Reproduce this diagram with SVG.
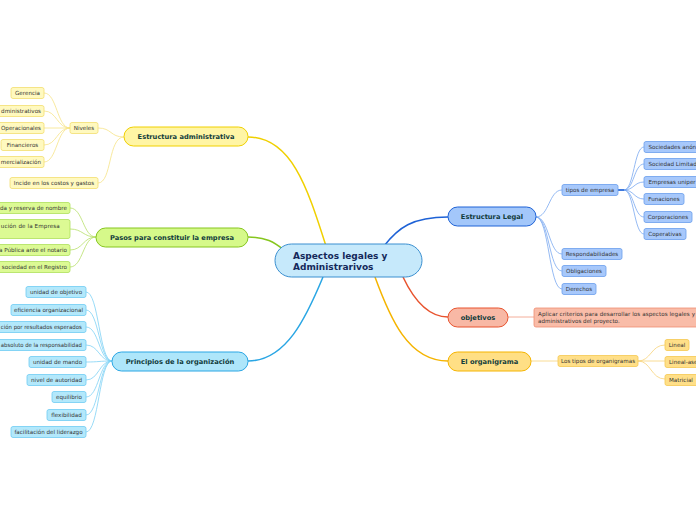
<svg xmlns="http://www.w3.org/2000/svg" width="696" height="520" viewBox="0 0 696 520">
<style>
text{font-family:"DejaVu Sans","Verdana",sans-serif;}
.t{font-size:5.6px;fill:#333;}
.m{font-size:6.7px;font-weight:bold;fill:#123c3c;}
.c{font-size:9px;font-weight:bold;fill:#14285a;}
.mid{text-anchor:middle;}
.end{text-anchor:end;}
.ly{fill:#fff9bf;stroke:#f3dd6e;stroke-width:0.8;}
.lg{fill:#dcfa94;stroke:#ade05a;stroke-width:0.8;}
.lc{fill:#b3e8fb;stroke:#6fcbf2;stroke-width:0.8;}
.lb{fill:#a7c8fb;stroke:#6a9eec;stroke-width:0.8;}
.lr{fill:#f9bca8;stroke:#ef8d72;stroke-width:0.8;}
.lo{fill:#ffdf88;stroke:#f5c850;stroke-width:0.8;}
.cy{fill:none;stroke:#f6e386;stroke-width:0.8;}
.cg{fill:none;stroke:#b8e06a;stroke-width:0.8;}
.cc{fill:none;stroke:#7fd2f5;stroke-width:0.8;}
.cb{fill:none;stroke:#7aa8f0;stroke-width:0.8;}
.cr{fill:none;stroke:#f19a80;stroke-width:0.8;}
.co{fill:none;stroke:#f7d37a;stroke-width:0.8;}
</style>
<rect width="696" height="520" fill="#fff"/>
<g id="connectors">
  <path d="M248,137 C292,137 308,190 326,246" fill="none" stroke="#f0d000" stroke-width="1.5"/>
  <path d="M248,237 C266,237 274,242 284,250" fill="none" stroke="#86c61e" stroke-width="1.5"/>
  <path d="M248,361 C286,361 306,318 323,277" fill="none" stroke="#2aa6e4" stroke-width="1.5"/>
  <path d="M448,217 C412,217 398,228 384,246" fill="none" stroke="#1e62d6" stroke-width="1.5"/>
  <path d="M448,317 C426,317 412,296 403,277" fill="none" stroke="#e8532e" stroke-width="1.5"/>
  <path d="M448,361 C408,361 390,318 375,277" fill="none" stroke="#f5b400" stroke-width="1.5"/>
  <path class="cy" d="M124,137 C110,137 112,128 98,128"/>
  <path class="cy" d="M124,137 C108,137 112,183 98,183"/>
  <path class="cy" d="M70,128 C57,128 57,93 44,93"/>
  <path class="cy" d="M70,128 C57,128 57,111 44,111"/>
  <path class="cy" d="M70,128 L44,128"/>
  <path class="cy" d="M70,128 C57,128 57,145 44,145"/>
  <path class="cy" d="M70,128 C57,128 57,162 44,162"/>
  <path class="cg" d="M96,237 C83,237 83,208 70,208"/>
  <path class="cg" d="M96,237 C83,237 83,229 70,229"/>
  <path class="cg" d="M96,237 C83,237 83,250 70,250"/>
  <path class="cg" d="M96,237 C83,237 83,267 70,267"/>
  <path class="cc" d="M112,361 C99,361 99,292 86,292"/>
  <path class="cc" d="M112,361 C99,361 99,310 86,310"/>
  <path class="cc" d="M112,361 C99,361 99,327 86,327"/>
  <path class="cc" d="M112,361 C99,361 99,345 86,345"/>
  <path class="cc" d="M112,361 C99,361 99,362 86,362"/>
  <path class="cc" d="M112,361 C99,361 99,380 86,380"/>
  <path class="cc" d="M112,361 C99,361 99,397 86,397"/>
  <path class="cc" d="M112,361 C99,361 99,415 86,415"/>
  <path class="cc" d="M112,361 C99,361 99,432 86,432"/>
  <path class="cb" d="M536,217 C549,217 549,190 562,190"/>
  <path class="cb" d="M536,217 C549,217 549,254 562,254"/>
  <path class="cb" d="M536,217 C549,217 549,271 562,271"/>
  <path class="cb" d="M536,217 C549,217 549,289 562,289"/>
  <path d="M618,190 L626,190" stroke="#2a6ad8" stroke-width="1.8"/>
  <path class="cb" d="M624,190 C634,190 634,147 644,147"/>
  <path class="cb" d="M624,190 C634,190 634,164 644,164"/>
  <path class="cb" d="M624,190 C634,190 634,182 644,182"/>
  <path class="cb" d="M624,190 C634,190 634,199 644,199"/>
  <path class="cb" d="M624,190 C634,190 634,217 644,217"/>
  <path class="cb" d="M624,190 C634,190 634,234 644,234"/>
  <path class="cr" d="M508,317 L534,317"/>
  <path class="co" d="M531,361 L558,361"/>
  <path class="co" d="M638,361 C651,361 651,345 665,345"/>
  <path class="co" d="M638,361 L665,361"/>
  <path class="co" d="M638,361 C651,361 651,379 665,379"/>
</g>
<g id="central">
  <rect x="275" y="244" width="147" height="33" rx="16.5" fill="#c6e9fb" stroke="#3a8fd0" stroke-width="1"/>
  <text class="c" x="293" y="258.5">Aspectos legales y</text>
  <text class="c" x="293" y="270">Administrarivos</text>
</g>
<g id="estructura-administrativa">
  <rect x="124" y="127" width="124" height="19" rx="9.5" fill="#fff5a5" stroke="#f0d000" stroke-width="1"/>
  <text class="m mid" x="186" y="139.3">Estructura administrativa</text>
</g>
<g id="niveles"><rect class="ly" x="70" y="122.5" width="28" height="11" rx="2"/><text class="t mid" x="84" y="130">Niveles</text></g>
<g id="gerencia"><rect class="ly" x="11" y="87.5" width="33" height="11" rx="2"/><text class="t mid" x="27.5" y="95">Gerencia</text></g>
<g id="administrativos"><rect class="ly" x="-20" y="105.5" width="64" height="11" rx="2"/><text class="t end" x="41" y="113">dministrativos</text></g>
<g id="operacionales"><rect class="ly" x="-3" y="122.5" width="47" height="11" rx="2"/><text class="t end" x="41" y="130">Operacionales</text></g>
<g id="financieros"><rect class="ly" x="1" y="139.5" width="43" height="11" rx="2"/><text class="t mid" x="22.5" y="147">Financieros</text></g>
<g id="comercializacion"><rect class="ly" x="-20" y="156.5" width="64" height="11" rx="2"/><text class="t end" x="41" y="164">mercialización</text></g>
<g id="incide"><rect class="ly" x="10" y="177.5" width="88" height="11" rx="2"/><text class="t mid" x="54" y="185">Incide en los costos y gastos</text></g>
<g id="pasos">
  <rect x="96" y="228" width="152" height="19" rx="9.5" fill="#d6f98a" stroke="#86c61e" stroke-width="1"/>
  <text class="m mid" x="172" y="240.3">Pasos para constituir la empresa</text>
</g>
<g id="busqueda"><rect class="lg" x="-20" y="202.5" width="90" height="11" rx="2"/><text class="t end" x="67" y="210">da y reserva de nombre</text></g>
<g id="minuta"><rect class="lg" x="-20" y="219.5" width="90" height="19" rx="2"/><text class="t" x="0.8" y="227.5" textLength="59" lengthAdjust="spacing">ución de la Empresa</text></g>
<g id="escritura"><rect class="lg" x="-20" y="244.5" width="90" height="11" rx="2"/><text class="t end" x="67" y="252">a Pública ante el notario</text></g>
<g id="inscripcion"><rect class="lg" x="-20" y="261.5" width="90" height="11" rx="2"/><text class="t end" x="67" y="269">sociedad en el Registro</text></g>
<g id="principios">
  <rect x="112" y="352" width="136" height="19" rx="9.5" fill="#aee6fa" stroke="#2aa6e4" stroke-width="1"/>
  <text class="m mid" x="180" y="364.3">Principios de la organización</text>
</g>
<g id="p1"><rect class="lc" x="26" y="286.5" width="60" height="11" rx="2"/><text class="t mid" x="56" y="294">unidad de objetivo</text></g>
<g id="p2"><rect class="lc" x="11" y="304.5" width="75" height="11" rx="2"/><text class="t mid" x="48.5" y="312">eficiencia organizacional</text></g>
<g id="p3"><rect class="lc" x="-20" y="321.5" width="106" height="11" rx="2"/><text class="t" x="0.8" y="329" textLength="81" lengthAdjust="spacingAndGlyphs">ción por resultados esperados</text></g>
<g id="p4"><rect class="lc" x="-20" y="339.5" width="106" height="11" rx="2"/><text class="t" x="0.8" y="347" textLength="81" lengthAdjust="spacingAndGlyphs">absoluto de la responsabilidad</text></g>
<g id="p5"><rect class="lc" x="29" y="356.5" width="57" height="11" rx="2"/><text class="t mid" x="57.5" y="364">unidad de mando</text></g>
<g id="p6"><rect class="lc" x="27" y="374.5" width="59" height="11" rx="2"/><text class="t mid" x="56.5" y="382">nivel de autoridad</text></g>
<g id="p7"><rect class="lc" x="52" y="391.5" width="34" height="11" rx="2"/><text class="t mid" x="69" y="399">equilibrio</text></g>
<g id="p8"><rect class="lc" x="47" y="409.5" width="39" height="11" rx="2"/><text class="t mid" x="66.5" y="417">flexibilidad</text></g>
<g id="p9"><rect class="lc" x="11" y="426.5" width="75" height="11" rx="2"/><text class="t mid" x="48.5" y="434">facilitación del liderazgo</text></g>
<g id="estructura-legal">
  <rect x="448" y="207" width="88" height="19" rx="9.5" fill="#a3c7fa" stroke="#1e62d6" stroke-width="1"/>
  <text class="m mid" x="492" y="219.3">Estructura Legal</text>
</g>
<g id="tipos-empresa"><rect class="lb" x="562" y="184.5" width="56" height="11" rx="2"/><text class="t mid" x="590" y="192">tipos de empresa</text></g>
<g id="respon"><rect class="lb" x="562" y="248.5" width="60" height="11" rx="2"/><text class="t mid" x="592" y="256">Respondabilidades</text></g>
<g id="oblig"><rect class="lb" x="562" y="265.5" width="44" height="11" rx="2"/><text class="t mid" x="584" y="273">Obligaciones</text></g>
<g id="derechos"><rect class="lb" x="562" y="283.5" width="34" height="11" rx="2"/><text class="t mid" x="579" y="291">Derechos</text></g>
<g id="t1"><rect class="lb" x="644" y="141.5" width="70" height="11" rx="2"/><text class="t" x="648.5" y="149">Sociedades anón</text></g>
<g id="t2"><rect class="lb" x="644" y="158.5" width="70" height="11" rx="2"/><text class="t" x="648.5" y="166">Sociedad Limitad</text></g>
<g id="t3"><rect class="lb" x="644" y="176.5" width="70" height="11" rx="2"/><text class="t" x="648.5" y="184">Empresas uniper</text></g>
<g id="t4"><rect class="lb" x="644" y="193.5" width="40" height="11" rx="2"/><text class="t mid" x="664" y="201">Funaciones</text></g>
<g id="t5"><rect class="lb" x="644" y="211.5" width="48" height="11" rx="2"/><text class="t mid" x="668" y="219">Corporaciones</text></g>
<g id="t6"><rect class="lb" x="644" y="228.5" width="42" height="11" rx="2"/><text class="t mid" x="665" y="236">Coperativas</text></g>
<g id="objetivos">
  <rect x="448" y="308" width="60" height="19" rx="9.5" fill="#f8b8a5" stroke="#e8532e" stroke-width="1"/>
  <text class="m mid" x="478" y="320.3">objetivos</text>
</g>
<g id="aplicar"><rect class="lr" x="534" y="308" width="180" height="19" rx="2"/><text class="t" x="538" y="315.5" textLength="157" lengthAdjust="spacing">Aplicar criterios para desarrollar los aspectos legales y</text><text class="t" x="538" y="323">administrativos del proyecto.</text></g>
<g id="organigrama">
  <rect x="448" y="352" width="83" height="19" rx="9.5" fill="#ffdf85" stroke="#f5b400" stroke-width="1"/>
  <text class="m mid" x="489.5" y="364.3">El organigrama</text>
</g>
<g id="tipos-organigramas"><rect class="lo" x="558" y="355.5" width="80" height="11" rx="2"/><text class="t mid" x="598" y="363">Los tipos de organigramas</text></g>
<g id="lineal"><rect class="lo" x="665" y="339.5" width="24" height="11" rx="2"/><text class="t mid" x="677" y="347">Lineal</text></g>
<g id="lineal-asesor"><rect class="lo" x="665" y="356.5" width="40" height="11" rx="2"/><text class="t" x="669" y="364">Lineal-ase</text></g>
<g id="matricial"><rect class="lo" x="665" y="374.5" width="40" height="11" rx="2"/><text class="t" x="669" y="382">Matricial</text></g>
</svg>
